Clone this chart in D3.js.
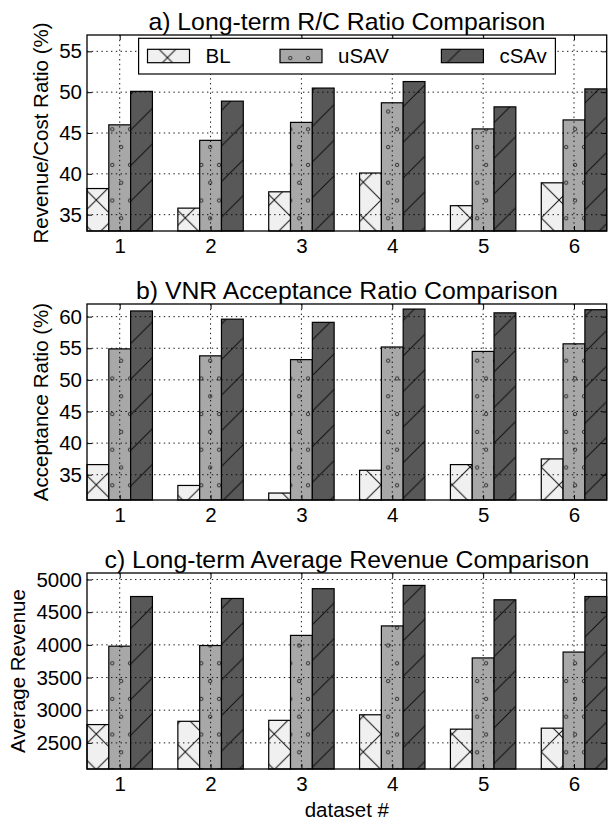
<!DOCTYPE html>
<html>
<head>
<meta charset="utf-8">
<script src="https://cdn.jsdelivr.net/npm/d3@7"></script>
<style>
  body { margin: 0; background: #fff; }
  svg text { font-family: "Liberation Sans", Arial, Helvetica, sans-serif; fill: #000; }
</style>
</head>
<body>
<svg id="chart" width="608" height="825"></svg>
<script>
// ---- data ----
const datasets = ["1", "2", "3", "4", "5", "6"];
const seriesNames = ["BL", "uSAV", "cSAv"];

// a) long-term revenue/cost ratio (%)
const rcBL   = [38.2, 35.8, 37.8, 40.1, 36.1, 38.9];
const rcUSAV = [46.0, 44.1, 46.3, 48.7, 45.5, 46.6];
const rcCSAV = [50.1, 48.9, 50.5, 51.3, 48.2, 50.4];
const rcTicks = [35, 40, 45, 50, 55];

// b) VNR acceptance ratio (%)
const accBL   = [36.6, 33.3, 32.1, 35.7, 36.6, 37.5];
const accUSAV = [54.9, 53.8, 53.2, 55.2, 54.5, 55.7];
const accCSAV = [60.9, 59.6, 59.1, 61.2, 60.6, 61.1];
const accTicks = [35, 40, 45, 50, 55, 60];

// c) long-term average revenue
const revBL   = [2780, 2830, 2845, 2930, 2710, 2725];
const revUSAV = [3980, 3990, 4145, 4290, 3800, 3890];
const revCSAV = [4740, 4710, 4860, 4910, 4690, 4740];
const revTicks = [2500, 3000, 3500, 4000, 4500, 5000];

const panels = [
  { title: "a) Long-term R/C Ratio Comparison", ylabel: "Revenue/Cost Ratio (%)",
    domain: [33, 57], ticks: rcTicks, series: [rcBL, rcUSAV, rcCSAV], legend: true },
  { title: "b) VNR Acceptance Ratio Comparison", ylabel: "Acceptance Ratio (%)",
    domain: [31, 62], ticks: accTicks, series: [accBL, accUSAV, accCSAV] },
  { title: "c) Long-term Average Revenue Comparison", ylabel: "Average Revenue",
    domain: [2100, 5100], ticks: revTicks, series: [revBL, revUSAV, revCSAV], xlabel: "dataset #" }
];

// ---- layout ----
const frameLeft = 87, frameRight = 606.7;
const plotH = 196;
const panelTops = [35, 304, 573];
const barW = 0.24;
const tickFont = 20.5, titleFont = 24.8, legendFont = 20.5, labelFont = 20.5;

const svg = d3.select("#chart");
const defs = svg.append("defs");

// ---- hatch fills ----
const P = 35.6;       // line hatch period
const S = P / 2;      // circle hatch spacing

const pBL = defs.append("pattern").attr("id", "hatch-bl")
  .attr("patternUnits", "userSpaceOnUse").attr("width", P).attr("height", P)
  .attr("x", 7.25).attr("y", 4.25);
pBL.append("rect").attr("width", P).attr("height", P).attr("fill", "#f0f0f0");
pBL.append("path")
  .attr("d", `M0,${P}L${P},0M-3,3L3,-3M${P-3},${P+3}L${P+3},${P-3}` +
             `M0,0L${P},${P}M-3,${P-3}L3,${P+3}M${P-3},-3L${P+3},3`)
  .attr("stroke", "#111").attr("stroke-width", 1).attr("fill", "none");

const pU = defs.append("pattern").attr("id", "hatch-usav")
  .attr("patternUnits", "userSpaceOnUse").attr("width", S).attr("height", 2 * S)
  .attr("x", 5.5).attr("y", 22.5);
pU.append("rect").attr("width", S).attr("height", 2 * S).attr("fill", "#a8a8a8");
[[0, 0], [S, 0], [0, 2 * S], [S, 2 * S], [S / 2, S]].forEach(([cx, cy]) =>
  pU.append("circle").attr("cx", cx).attr("cy", cy).attr("r", 1.7)
    .attr("fill", "none").attr("stroke", "#222").attr("stroke-width", 0.9));

const pC = defs.append("pattern").attr("id", "hatch-csav")
  .attr("patternUnits", "userSpaceOnUse").attr("width", P).attr("height", P)
  .attr("x", 11.5).attr("y", 0);
pC.append("rect").attr("width", P).attr("height", P).attr("fill", "#585858");
pC.append("path")
  .attr("d", `M0,${P}L${P},0M-3,3L3,-3M${P-3},${P+3}L${P+3},${P-3}`)
  .attr("stroke", "#111").attr("stroke-width", 1).attr("fill", "none");

const fills = ["url(#hatch-bl)", "url(#hatch-usav)", "url(#hatch-csav)"];

// ---- shared x scale: bar groups centred on the middle series ----
const x = d3.scaleLinear()
  .domain([-1.5 * barW, datasets.length - 1 + 1.5 * barW])
  .range([frameLeft, frameRight]);
const bw = x(barW) - x(0);

panels.forEach((p, pi) => {
  const top = panelTops[pi], bottom = top + plotH;
  const y = d3.scaleLinear().domain(p.domain).range([bottom, top]);
  const g = svg.append("g");

  // bars
  p.series.forEach((vals, k) => {
    g.selectAll(null).data(vals).enter().append("rect")
      .attr("x", (v, i) => x(i + (k - 1) * barW - barW / 2))
      .attr("y", v => y(v))
      .attr("width", bw)
      .attr("height", v => y(p.domain[0]) - y(v))
      .attr("fill", fills[k])
      .attr("stroke", "#000").attr("stroke-width", 1.2);
  });

  // dotted grid on top of the bars
  const grid = g.append("g").attr("stroke", "#000").attr("stroke-width", 1)
    .attr("stroke-dasharray", "1.4,3.4").attr("opacity", 0.9);
  p.ticks.forEach(t => grid.append("line")
    .attr("x1", frameLeft).attr("x2", frameRight).attr("y1", y(t)).attr("y2", y(t)));
  datasets.forEach((d, i) => grid.append("line")
    .attr("x1", x(i)).attr("x2", x(i)).attr("y1", top).attr("y2", bottom));

  // axes: labels outside, short ticks pointing inwards
  const yAxis = g.append("g").attr("transform", `translate(${frameLeft},0)`)
    .call(d3.axisLeft(y).tickValues(p.ticks).tickFormat(d3.format("d"))
      .tickSizeInner(-5).tickSizeOuter(0).tickPadding(5));
  const yAxisR = g.append("g").attr("transform", `translate(${frameRight},0)`)
    .call(d3.axisRight(y).tickValues(p.ticks).tickSizeInner(-5).tickSizeOuter(0).tickFormat(""));
  const xAxis = g.append("g").attr("transform", `translate(0,${bottom})`)
    .call(d3.axisBottom(x).tickValues(d3.range(datasets.length)).tickFormat(i => datasets[i])
      .tickSizeInner(-5).tickSizeOuter(0).tickPadding(7));
  const xAxisT = g.append("g").attr("transform", `translate(0,${top})`)
    .call(d3.axisTop(x).tickValues(d3.range(datasets.length)).tickFormat("")
      .tickSizeInner(-5).tickSizeOuter(0));
  [yAxis, yAxisR, xAxis, xAxisT].forEach(a => {
    a.select(".domain").remove();
    a.selectAll(".tick line").attr("stroke", "#000").attr("stroke-width", 1);
    a.selectAll("text").attr("font-size", tickFont)
      .attr("font-family", "'Liberation Sans', Arial, sans-serif").attr("fill", "#000");
  });

  // frame
  g.append("rect").attr("x", frameLeft).attr("y", top)
    .attr("width", frameRight - frameLeft).attr("height", plotH)
    .attr("fill", "none").attr("stroke", "#000").attr("stroke-width", 1.3);

  // title
  g.append("text").attr("x", (frameLeft + frameRight) / 2).attr("y", top - 5.5)
    .attr("text-anchor", "middle").attr("font-size", titleFont).text(p.title);

  // y label, placed left of the widest tick label
  let maxW = 0;
  yAxis.selectAll("text").each(function () { maxW = Math.max(maxW, this.getComputedTextLength()); });
  const lx = frameLeft - 5 - maxW - 7 - 0.21 * labelFont;
  g.append("text")
    .attr("transform", `translate(${lx},${(top + bottom) / 2}) rotate(-90)`)
    .attr("text-anchor", "middle").attr("font-size", labelFont).text(p.ylabel);

  if (p.xlabel) {
    g.append("text").attr("x", (frameLeft + frameRight) / 2).attr("y", bottom + 47.5)
      .attr("text-anchor", "middle").attr("font-size", labelFont).text(p.xlabel);
  }

  // legend
  if (p.legend) {
    const lg = g.append("g");
    lg.append("rect").attr("x", 138.6).attr("y", top + 3.3).attr("width", 416.8).attr("height", 35.7)
      .attr("fill", "#fff").attr("stroke", "#000").attr("stroke-width", 1.2);
    const patchX = [147.5, 280, 441.4];
    seriesNames.forEach((name, k) => {
      lg.append("rect").attr("x", patchX[k]).attr("y", top + 14.3).attr("width", 42).attr("height", 13.4)
        .attr("fill", fills[k]).attr("stroke", "#000").attr("stroke-width", 1.2);
      lg.append("text").attr("x", patchX[k] + 58).attr("y", top + 21 + 0.358 * legendFont)
        .attr("font-size", legendFont).text(name);
    });
  }
});
</script>
</body>
</html>
